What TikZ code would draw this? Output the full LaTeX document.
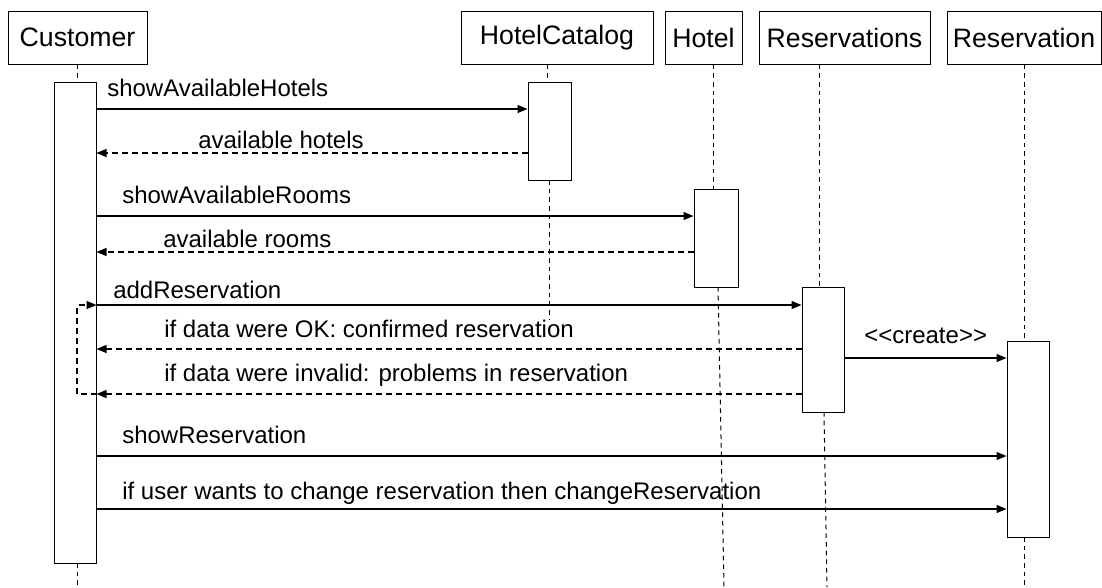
\documentclass[tikz,border=0pt]{standalone}
\usepackage{fontspec}
\setmainfont{Liberation Sans}
\usetikzlibrary{arrows.meta}
\begin{document}
\begin{tikzpicture}[x=0.75pt,y=-0.75pt,
  obj/.style={draw, line width=0.75pt, fill=white, inner sep=0, minimum height=39.75pt, font=\fontsize{20}{24}\selectfont},
  act/.style={draw, line width=0.75pt, fill=white, inner sep=0},
  life/.style={line width=0.75pt, dash pattern=on 3.5pt off 3pt},
  call/.style={line width=0.95pt, -{Triangle[length=7.5pt,width=6pt]}},
  ret/.style={line width=0.95pt, dash pattern=on 4.5pt off 3pt, -{Triangle[length=7.5pt,width=6pt]}},
  lbl/.style={anchor=base west, inner sep=0, font=\fontsize{18}{22}\selectfont}]
\useasboundingbox (0,0) rectangle (1102,587);

% lifeline x positions
\coordinate (cl) at (77,0);
\coordinate (hcl) at (547,0);
\coordinate (hl) at (713,0);
\coordinate (rsl) at (819,0);
\coordinate (rl) at (1024,0);
\coordinate (lp) at (77,0);
\coordinate (hcend) at (549,320);
\coordinate (hend) at (724,587);
\coordinate (rsend) at (827,587);

% object boxes
\node[obj, minimum width=104.25pt] (cust) at (77.5,37.5) {Customer};
\node[obj, minimum width=144pt] (hc) at (557,37.5) {HotelCatalog};
\node[obj, minimum width=57.75pt] (hotel) at (703.5,37.5) {Hotel};
\node[obj, minimum width=128.25pt] (rs) at (844.5,37.5) {Reservations};
\node[obj, minimum width=115.5pt] (r) at (1024,37.5) {Reservation};

% activation box geometry (nodes placed later, coordinates first)
\coordinate (caC) at (75,322.5);
\coordinate (hcaC) at (549.5,131);
\coordinate (haC) at (716,238);
\coordinate (rsaC) at (823,349.5);
\coordinate (raC) at (1028,439);

% lifelines
\draw[life] (cust.south -| cl) -- (cl |- 0,82);
\draw[life] (cl |- 0,563) -- (cl |- 0,587);
\draw[life] (hc.south -| hcl) -- (hcl |- 0,82);
\draw[life] (549,180) -- (hcend);
\draw[life] (hotel.south -| hl) -- (hl |- 0,189);
\draw[life] (718,287) -- (hend);
\draw[life] (rs.south -| rsl) -- (rsl |- 0,287);
\draw[life] (824,412) -- (rsend);
\draw[life] (r.south -| rl) -- (rl |- 0,341);
\draw[life] (rl |- 0,537) -- (rl |- 0,587);

% activation boxes
\node[act, minimum width=31.5pt, minimum height=360.75pt] (ca) at (caC) {};
\node[act, minimum width=32.25pt, minimum height=73.5pt] (hca) at (hcaC) {};
\node[act, minimum width=33pt, minimum height=73.5pt] (ha) at (haC) {};
\node[act, minimum width=31.5pt, minimum height=93.75pt] (rsa) at (rsaC) {};
\node[act, minimum width=31.5pt, minimum height=147pt] (ra) at (raC) {};

% messages
\draw[call] (ca.east |- 0,109) -- (hca.west |- 0,109);
\node[lbl] (m1) at (107,96) {showAvailableHotels};
\draw[ret] (hca.west |- 0,153) -- (ca.east |- 0,153);
\node[lbl] (m2) at (198,148) {available hotels};
\draw[call] (ca.east |- 0,216) -- (ha.west |- 0,216);
\node[lbl] (m3) at (122,203) {showAvailableRooms};
\draw[ret] (ha.west |- 0,252) -- (ca.east |- 0,252);
\node[lbl] (m4) at (163,247) {available rooms};
\draw[call] (ca.east |- 0,305) -- (rsa.west |- 0,305);
\node[lbl] (m5) at (113,298) {addReservation};
\draw[ret] (rsa.west |- 0,349) -- (ca.east |- 0,349);
\node[lbl] (m6) at (164,337) {if data were OK: confirmed reservation};
\draw[ret] (rsa.west |- 0,394) -- (ca.east |- 0,394);
\node[lbl] (m7) at (164,381) {if data were invalid: problems in reservation};
\draw[ret] (ca.east |- 0,394) -- (lp |- 0,394) -- (lp |- 0,305) -- (ca.east |- 0,305);
\draw[call] (rsa.east |- 0,358) -- (ra.west |- 0,358);
\node[lbl] (m8) at (864,343) {<{}<create>{}>};
\draw[call] (ca.east |- 0,456) -- (ra.west |- 0,456);
\node[lbl] (m9) at (122,443) {showReservation};
\draw[call] (ca.east |- 0,509) -- (ra.west |- 0,509);
\node[lbl] (m10) at (122,499) {if user wants to change reservation then changeReservation};
\end{tikzpicture}
\end{document}
